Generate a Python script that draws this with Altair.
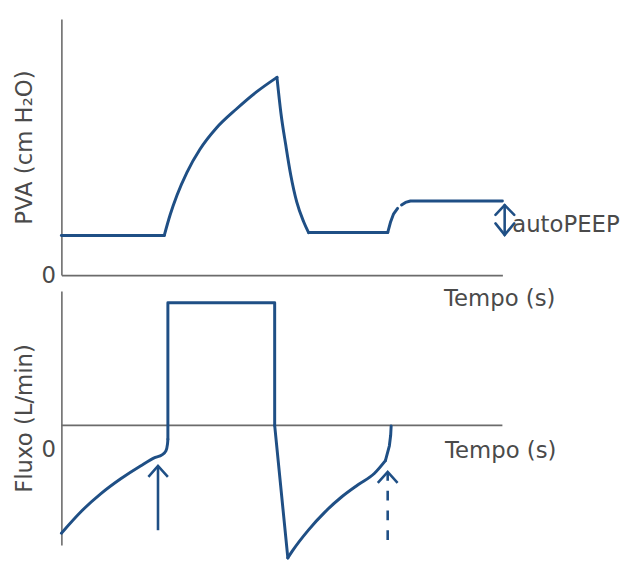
import altair as alt
import pandas as pd

# ---------------- data ----------------
# Top panel: airway pressure (PVA, cm H2O) vs time (s)
pva_seg = ["a", "a",
           "b", "b", "b", "b", "b", "b", "b", "b", "b",
           "c", "c", "c", "c", "c", "c", "c",
           "d", "d",
           "e", "e", "e", "e",
           "f", "f", "f", "f"]
pva_t = [0.00, 1.04,
         1.04, 1.10, 1.17, 1.27, 1.40, 1.57, 1.77, 1.97, 2.18,
         2.18, 2.22, 2.27, 2.32, 2.38, 2.45, 2.50,
         2.50, 3.30,
         3.30, 3.33, 3.36, 3.40,
         3.44, 3.48, 3.53, 4.46]
pva_v = [4.0, 4.0,
         4.0, 6.1, 8.1, 10.4, 12.7, 14.9, 16.8, 18.5, 20.0,
         20.0, 16.4, 13.1, 10.1, 7.4, 5.4, 4.3,
         4.3, 4.3,
         4.3, 5.4, 6.2, 6.75,
         7.1, 7.35, 7.5, 7.5]

# Bottom panel: flow (L/min) vs time (s)
flow_seg = ["g1"] * 10 + ["g2"] * 4 + ["g3"] * 2 + ["g4"] * 8 + ["g5"] * 4
flow_t = [0.00, 0.20, 0.40, 0.60, 0.80, 0.95, 1.017, 1.057, 1.073, 1.077,
          1.077, 1.077, 2.157, 2.157,
          2.157, 2.29,
          2.29, 2.333, 2.50, 2.667, 2.833, 3.00, 3.167, 3.277,
          3.277, 3.317, 3.330, 3.335]
flow_f = [-54.5, -43.5, -34.5, -27.0, -20.5, -16.2, -14.9, -12.9, -9.5, -7.0,
          -7.0, 62.0, 62.0, 0.0,
          0.0, -67.0,
          -67.0, -63.7, -52.8, -43.7, -36.2, -30.0, -24.2, -17.8,
          -17.8, -10.3, -5.0, -0.3]

# autoPEEP double arrow (top panel)
peep_part = ["shaft", "shaft", "top", "top", "top", "bot", "bot", "bot"]
peep_t = [4.483, 4.483, 4.39, 4.483, 4.58, 4.39, 4.483, 4.58]
peep_v = [7.07, 4.07, 6.1, 7.07, 6.1, 5.23, 4.07, 5.23]

# patient effort arrows (bottom panel)
trig_part = ["shaft", "shaft", "head", "head", "head"]
trig_t = [0.977, 0.977, 0.88, 0.977, 1.077]
trig_f = [-53.0, -20.5, -26.0, -20.5, -26.0]

miss_part = ["shaft", "shaft", "head", "head", "head"]
miss_t = [3.30, 3.30, 3.20, 3.30, 3.40]
miss_f = [-58.0, -24.5, -29.0, -23.5, -29.0]

y_label_top = "PVA (cm H₂O)"
y_label_bottom = "Fluxo (L/min)"
x_label = "Tempo (s)"
peep_label = "autoPEEP"

# ---------------- styling ----------------
BLUE = "#1f4f85"
AXIS = "#6b6b6b"
TXT = "#4a4a4a"
FONT = "DejaVu Sans"
FS = 23
CURVED = ["b", "c", "g1", "g4"]

T_DOMAIN = [0, 4.46]

top_df = pd.DataFrame({"seg": pva_seg, "t": pva_t, "v": pva_v,
                       "i": list(range(len(pva_t)))})
bot_df = pd.DataFrame({"seg": flow_seg, "t": flow_t, "v": flow_f,
                       "i": list(range(len(flow_t)))})
peep_df = pd.DataFrame({"part": peep_part, "t": peep_t, "v": peep_v,
                        "i": list(range(len(peep_t)))})
trig_df = pd.DataFrame({"part": trig_part, "t": trig_t, "v": trig_f,
                        "i": list(range(len(trig_t)))})
miss_df = pd.DataFrame({"part": miss_part, "t": miss_t, "v": miss_f,
                        "i": list(range(len(miss_t)))})


def y_axis(title, label_offset=0):
    return alt.Axis(values=[0], title=title, ticks=False, grid=False,
                    labelFont=FONT, labelFontSize=FS, labelColor=TXT,
                    labelPadding=6, labelOffset=label_offset,
                    titleFont=FONT, titleFontSize=FS, titleFontWeight="normal",
                    titleColor=TXT, titlePadding=4.5,
                    domainColor=AXIS, domainWidth=1.6)


Y_BOT_SCALE = alt.Scale(domain=[-60.5, 68], nice=False, zero=False)

x_top = alt.X("t:Q", scale=alt.Scale(domain=T_DOMAIN, nice=False, zero=False),
              axis=alt.Axis(title=None, labels=False, ticks=False, grid=False,
                            domainColor=AXIS, domainWidth=1.6))
y_top = alt.Y("v:Q", scale=alt.Scale(domain=[0, 25.9], nice=False),
              axis=y_axis(y_label_top))

x_bot = alt.X("t:Q", scale=alt.Scale(domain=T_DOMAIN, nice=False, zero=False),
              axis=None)
y_bot = alt.Y("v:Q", scale=Y_BOT_SCALE, axis=y_axis(y_label_bottom, label_offset=24))

line_kw = dict(color=BLUE, strokeWidth=3, strokeCap="round", strokeJoin="round")
text_kw = dict(align="left", baseline="alphabetic", font=FONT, fontSize=FS, color=TXT)

# ---- top panel ----
top_curve = alt.Chart(top_df).transform_filter(
    alt.FieldOneOfPredicate(field="seg", oneOf=CURVED)
).mark_line(interpolate="monotone", **line_kw).encode(
    x=x_top, y=y_top, detail="seg:N", order="i:Q")
top_straight = alt.Chart(top_df).transform_filter(
    ~alt.FieldOneOfPredicate(field="seg", oneOf=CURVED)
).mark_line(**line_kw).encode(
    x=x_top, y=y_top, detail="seg:N", order="i:Q")
peep_arrow = alt.Chart(peep_df).mark_line(
    color=BLUE, strokeWidth=2.6, strokeCap="round", strokeJoin="miter").encode(
    x="t:Q", y="v:Q", detail="part:N", order="i:Q")
peep_text = alt.Chart(pd.DataFrame({"label": [peep_label]})).mark_text(**text_kw).encode(
    x=alt.datum(4.56), y=alt.datum(4.4), text="label:N")
tempo_top = alt.Chart(pd.DataFrame({"label": [x_label]})).mark_text(**text_kw).encode(
    x=alt.datum(3.87), y=alt.datum(-3.1), text="label:N")

top = alt.layer(top_straight, top_curve, peep_arrow, peep_text, tempo_top).properties(
    width=446, height=259)

# ---- bottom panel ----
zero_rule = alt.Chart(pd.DataFrame({"z": [0]})).mark_rule(
    color=AXIS, strokeWidth=1.6).encode(y=alt.Y("z:Q", scale=Y_BOT_SCALE))
bot_curve = alt.Chart(bot_df).transform_filter(
    alt.FieldOneOfPredicate(field="seg", oneOf=CURVED)
).mark_line(interpolate="monotone", **line_kw).encode(
    x=x_bot, y=y_bot, detail="seg:N", order="i:Q")
bot_straight = alt.Chart(bot_df).transform_filter(
    ~alt.FieldOneOfPredicate(field="seg", oneOf=CURVED)
).mark_line(**line_kw).encode(
    x=x_bot, y=y_bot, detail="seg:N", order="i:Q")
trig_arrow = alt.Chart(trig_df).mark_line(
    color=BLUE, strokeWidth=2.6, strokeCap="butt", strokeJoin="miter").encode(
    x="t:Q", y="v:Q", detail="part:N", order="i:Q")
miss_shaft = alt.Chart(miss_df).transform_filter(alt.datum.part == "shaft").mark_line(
    color=BLUE, strokeWidth=2.6, strokeDash=[10, 10], strokeCap="butt").encode(
    x="t:Q", y="v:Q", order="i:Q")
miss_head = alt.Chart(miss_df).transform_filter(alt.datum.part == "head").mark_line(
    color=BLUE, strokeWidth=2.6, strokeJoin="miter").encode(
    x="t:Q", y="v:Q", order="i:Q")
tempo_bot = alt.Chart(pd.DataFrame({"label": [x_label]})).mark_text(**text_kw).encode(
    x=alt.datum(3.88), y=alt.datum(-16.5), text="label:N")

bottom = alt.layer(zero_rule, bot_straight, bot_curve, trig_arrow, miss_shaft,
                   miss_head, tempo_bot).properties(width=446, height=257)

chart = alt.vconcat(top, bottom, spacing=16, bounds="flush").properties(
    padding={"left": 5, "top": 8, "right": 5, "bottom": 0},
    background="white"
).configure_view(stroke=None)

chart.save("out.html", embed_options={"renderer": "svg", "actions": False})
